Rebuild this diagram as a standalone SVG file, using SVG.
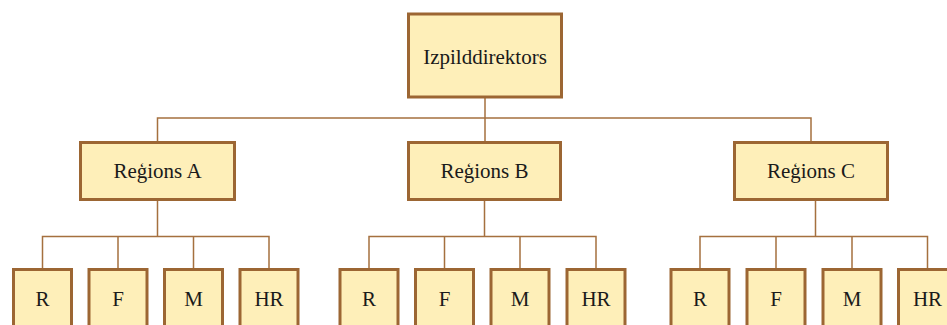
<svg xmlns="http://www.w3.org/2000/svg" width="947" height="325" viewBox="0 0 947 325">
<style>
.box{fill:#FEEFB9;stroke:#9C6633;stroke-width:3}
.lbl{font-family:'Liberation Serif','Times New Roman','DejaVu Serif',serif;font-size:21px;fill:#1a1a1a;text-anchor:middle}
.ln{fill:none;stroke:#A5703F;stroke-width:1.5}
</style>
<rect width="947" height="325" fill="#ffffff"/>
<g id="connectors">
<path class="ln" d="M485,98 V118 M157.5,141 V118 H811 V141 M485,118 V141"/>
<path class="ln" d="M157.5,201 V236.5 M42.5,268 V236.5 H269 V268 M118,236.5 V268 M193.5,236.5 V268"/>
<path class="ln" d="M484.5,201 V236.5 M369,268 V236.5 H596 V268 M444.5,236.5 V268 M520,236.5 V268"/>
<path class="ln" d="M815.5,201 V236.5 M700,268 V236.5 H927.5 V268 M776,236.5 V268 M852,236.5 V268"/>
</g>
<g id="ceo"><rect class="box" x="408.5" y="14" width="153" height="83"/><text class="lbl" font-family="Liberation Serif, serif" x="485" y="64">Izpilddirektors</text></g>
<g id="regA"><rect class="box" x="80.5" y="142.5" width="154" height="57"/><text class="lbl" x="157.5" y="178">Reģions A</text></g>
<g id="regB"><rect class="box" x="408.5" y="142.5" width="152" height="57"/><text class="lbl" x="484.5" y="178">Reģions B</text></g>
<g id="regC"><rect class="box" x="734.5" y="142.5" width="153" height="57"/><text class="lbl" x="811" y="178">Reģions C</text></g>
<g id="A-R"><rect class="box" x="13.5" y="269.5" width="58" height="70"/><text class="lbl" x="42.5" y="306">R</text></g>
<g id="A-F"><rect class="box" x="89" y="269.5" width="58" height="70"/><text class="lbl" x="118" y="306">F</text></g>
<g id="A-M"><rect class="box" x="164.5" y="269.5" width="58" height="70"/><text class="lbl" x="193.5" y="306">M</text></g>
<g id="A-HR"><rect class="box" x="240" y="269.5" width="58" height="70"/><text class="lbl" x="269" y="306">HR</text></g>
<g id="B-R"><rect class="box" x="340" y="269.5" width="58" height="70"/><text class="lbl" x="369" y="306">R</text></g>
<g id="B-F"><rect class="box" x="415.5" y="269.5" width="58" height="70"/><text class="lbl" x="444.5" y="306">F</text></g>
<g id="B-M"><rect class="box" x="491" y="269.5" width="58" height="70"/><text class="lbl" x="520" y="306">M</text></g>
<g id="B-HR"><rect class="box" x="567" y="269.5" width="58" height="70"/><text class="lbl" x="596" y="306">HR</text></g>
<g id="C-R"><rect class="box" x="671" y="269.5" width="58" height="70"/><text class="lbl" x="700" y="306">R</text></g>
<g id="C-F"><rect class="box" x="747" y="269.5" width="58" height="70"/><text class="lbl" x="776" y="306">F</text></g>
<g id="C-M"><rect class="box" x="823" y="269.5" width="58" height="70"/><text class="lbl" x="852" y="306">M</text></g>
<g id="C-HR"><rect class="box" x="898.5" y="269.5" width="58" height="70"/><text class="lbl" x="927.5" y="306">HR</text></g>
</svg>
